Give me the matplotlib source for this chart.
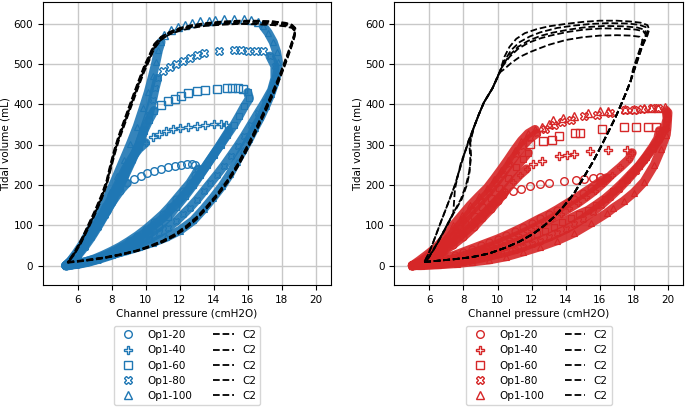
import matplotlib
matplotlib.use('Agg')
import matplotlib.pyplot as plt

BLUE = '#1f77b4'
RED = '#d62728'

labels = ['Op1-20', 'Op1-40', 'Op1-60', 'Op1-80', 'Op1-100']
markers = ['o', 'P', 's', 'X', '^']

# ---------------- left panel (blue), (pressure, volume) ----------------
b20_rise = [(5.3, 0), (5.7, 15), (6.1, 35), (6.5, 58), (6.9, 82), (7.3, 108), (7.7, 135),
            (8.1, 162), (8.5, 186), (8.9, 205)]
b20_top = [(9.3, 215), (9.7, 223), (10.1, 230), (10.5, 236), (10.9, 241), (11.3, 245),
           (11.7, 248), (12.1, 250), (12.4, 251), (12.7, 251), (12.9, 250)]
b20_fall = [(13.1, 240), (12.9, 225), (12.6, 205), (12.2, 185), (11.8, 165), (11.4, 145),
            (11.0, 127), (10.5, 108), (10.0, 90), (9.5, 74), (9.0, 60), (8.5, 47), (8.0, 36),
            (7.5, 26), (7.0, 17), (6.5, 10), (6.0, 5), (5.6, 2), (5.3, 0)]

b40_rise = [(5.3, 0), (5.6, 12), (6.0, 32), (6.4, 55), (6.8, 80), (7.2, 108), (7.6, 138),
            (8.0, 170), (8.4, 205), (8.8, 240), (9.2, 268), (9.6, 290), (10.0, 305)]
b40_top = [(10.4, 318), (10.8, 326), (11.2, 333), (11.6, 338), (12.0, 342), (12.5, 345),
           (13.0, 347), (13.5, 349), (14.0, 351), (14.4, 351), (14.7, 350)]
b40_fall = [(14.9, 335), (14.6, 315), (14.3, 295), (13.9, 270), (13.5, 245), (13.0, 215),
            (12.5, 188), (12.0, 163), (11.5, 140), (11.0, 118), (10.5, 100), (10.0, 83),
            (9.5, 68), (9.0, 55), (8.5, 43), (8.0, 32), (7.5, 23), (7.0, 15), (6.5, 9),
            (6.0, 4), (5.5, 1)]

b60_rise = [(5.3, 0), (5.6, 10), (6.0, 28), (6.4, 50), (6.8, 75), (7.2, 102), (7.6, 132),
            (8.0, 163), (8.4, 196), (8.8, 230), (9.2, 265), (9.6, 300), (9.9, 335),
            (10.2, 362), (10.5, 385)]
b60_top = [(10.9, 398), (11.3, 408), (11.7, 414), (12.1, 420), (12.5, 428), (13.0, 433),
           (13.5, 435), (14.2, 439), (14.8, 440), (15.1, 440), (15.4, 440), (15.7, 438)]
b60_fall = [(16.0, 430), (16.1, 415), (15.8, 395), (15.5, 372), (15.2, 350), (14.8, 325),
            (14.4, 300), (14.0, 275), (13.6, 250), (13.2, 225), (12.8, 200), (12.3, 172),
            (11.8, 146), (11.3, 120), (10.8, 97), (10.2, 78), (9.6, 62), (9.0, 48),
            (8.4, 36), (7.8, 25), (7.2, 16), (6.6, 9), (6.0, 4), (5.5, 1)]

b80_rise = [(5.3, 0), (5.6, 8), (6.0, 25), (6.4, 46), (6.8, 70), (7.2, 97), (7.6, 126),
            (8.0, 157), (8.4, 190), (8.8, 225), (9.2, 262), (9.6, 300), (9.9, 338),
            (10.2, 375), (10.4, 410), (10.55, 440), (10.7, 465)]
b80_top = [(11.0, 482), (11.4, 492), (11.8, 500), (12.2, 508), (12.6, 516), (13.0, 522),
           (13.4, 527), (14.3, 532), (15.2, 534), (15.6, 534), (16.0, 533), (16.5, 533),
           (16.9, 532)]
b80_fall = [(17.3, 520), (17.6, 495), (17.6, 465), (17.4, 435), (17.0, 405), (16.6, 378),
            (16.2, 350), (15.8, 322), (15.4, 296), (15.0, 272), (14.6, 248), (14.2, 226),
            (13.8, 205), (13.4, 184), (13.0, 163), (12.6, 144), (12.2, 127), (11.8, 111),
            (11.3, 94), (10.8, 80), (10.2, 66), (9.6, 53), (9.0, 42), (8.4, 32), (7.8, 23),
            (7.2, 15), (6.6, 8), (6.0, 3), (5.5, 1)]

b100_rise = [(5.3, 0), (5.55, 10), (5.9, 30), (6.3, 55), (6.7, 85), (7.1, 115), (7.5, 148),
             (7.9, 183), (8.3, 222), (8.7, 262), (9.1, 302), (9.5, 345), (9.85, 390),
             (10.15, 430), (10.4, 470), (10.6, 505), (10.75, 535), (10.9, 555)]
b100_top = [(11.1, 572), (11.5, 585), (11.9, 593), (12.3, 598), (12.7, 602), (13.2, 606),
            (13.7, 608), (14.1, 610), (14.6, 611), (15.2, 611), (15.8, 611), (16.2, 609),
            (16.6, 605)]
b100_fall = [(16.9, 595), (17.2, 578), (17.5, 555), (17.7, 530), (17.8, 505), (17.75, 480),
             (17.6, 455), (17.35, 425), (17.05, 395), (16.75, 368), (16.42, 342),
             (16.1, 315), (15.75, 288), (15.35, 258), (14.95, 227), (14.5, 198),
             (13.97, 169), (13.4, 140), (12.8, 112), (12.0, 87), (11.2, 70), (10.4, 57),
             (9.6, 46), (8.8, 36), (8.0, 27), (7.2, 18), (6.4, 9), (5.7, 3), (5.3, 0)]

# C2 loops, left panel: shared pressure path, five volume traces
c2_left_p = [5.4, 6.5, 7.5, 8.5, 9.5, 10.3, 11.0, 11.7, 12.4, 13.0, 13.6, 14.2, 14.8, 15.4,
             16.0, 16.5, 17.0, 17.5, 17.9, 18.25, 18.55, 18.75, 18.8, 18.6, 18.2, 17.5, 16.5,
             15.5, 14.5, 13.5, 12.7, 12.0, 11.4, 10.9, 10.5, 10.2, 9.9, 9.6, 9.3, 9.0, 8.7,
             8.4, 8.15, 7.9, 7.7, 7.4, 7.0, 6.6, 6.2, 5.8, 5.5, 5.4]
c2_left_v1 = [8, 13, 19, 27, 37, 48, 60, 75, 96, 118, 145, 175, 208, 248, 295, 338, 383, 430,
              470, 510, 545, 572, 585, 595, 600, 603, 605, 605, 603, 600, 595, 588, 578, 565,
              545, 515, 488, 455, 420, 385, 350, 315, 280, 240, 205, 170, 130, 95, 60, 30, 12, 8]
c2_left_v2 = [9, 14, 20, 28, 38, 50, 62, 78, 99, 121, 148, 178, 212, 252, 300, 343, 388, 436,
              476, 516, 550, 577, 590, 598, 603, 606, 607, 606, 604, 600, 594, 586, 575, 560,
              538, 508, 480, 447, 412, 378, 343, 308, 272, 232, 198, 164, 125, 90, 56, 27, 11, 9]
c2_left_v3 = [7, 12, 18, 26, 36, 47, 58, 73, 93, 115, 142, 172, 205, 244, 290, 333, 378, 425,
              465, 504, 540, 567, 582, 592, 597, 600, 601, 601, 600, 597, 593, 587, 579, 568,
              550, 522, 495, 462, 428, 393, 358, 322, 288, 248, 212, 176, 136, 100, 64, 33, 14, 7]
c2_left_v4 = [8, 13, 19, 27, 37, 49, 61, 76, 97, 119, 146, 176, 210, 250, 297, 340, 385, 432,
              473, 513, 548, 575, 588, 597, 602, 606, 608, 608, 606, 602, 597, 590, 580, 567,
              548, 519, 491, 458, 423, 388, 352, 317, 283, 243, 208, 172, 132, 97, 62, 31, 13, 8]
c2_left_v5 = [8, 13, 19, 27, 37, 48, 59, 74, 95, 117, 144, 174, 207, 246, 293, 336, 381, 428,
              468, 507, 542, 569, 580, 590, 594, 597, 599, 600, 598, 595, 590, 583, 574, 561,
              541, 512, 485, 452, 418, 383, 348, 313, 278, 238, 203, 168, 128, 93, 58, 29, 12, 8]

# ---------------- right panel (red), (pressure, volume) ----------------
r20_rise = [(5.0, 0), (5.6, 8), (6.2, 20), (6.8, 35), (7.4, 52), (8.0, 72), (8.6, 95),
            (9.1, 118), (9.6, 140), (10.0, 160), (10.3, 175)]
r20_top = [(10.4, 182), (10.9, 186), (11.4, 190), (11.9, 197), (12.5, 203), (13.0, 205),
           (13.9, 210), (14.6, 213), (15.1, 216), (15.6, 218), (16.0, 219)]
r20_fall = [(16.4, 218), (16.0, 208), (15.5, 193), (15.0, 179), (14.5, 165), (14.0, 152),
            (13.5, 139), (13.0, 127), (12.5, 117), (12.0, 106), (11.5, 95), (11.0, 85),
            (10.5, 75), (10.0, 66), (9.5, 58), (9.0, 50), (8.5, 42), (8.0, 34), (7.5, 26),
            (7.0, 19), (6.5, 12), (6.0, 7), (5.5, 3), (5.0, 0)]

r40_rise = [(5.0, 0), (5.6, 9), (6.2, 22), (6.8, 38), (7.4, 58), (8.0, 80), (8.6, 104),
            (9.2, 128), (9.8, 155), (10.4, 182), (10.9, 207), (11.3, 225), (11.7, 240)]
r40_top = [(12.1, 251), (12.6, 260), (13.6, 272), (14.1, 274), (14.5, 276), (15.4, 284),
           (16.5, 286), (17.6, 286)]
r40_fall = [(17.9, 280), (17.7, 264), (17.2, 244), (16.7, 226), (16.2, 205), (15.7, 186),
            (15.2, 170), (14.7, 155), (14.2, 142), (13.7, 129), (13.2, 117), (12.7, 106),
            (12.2, 95), (11.7, 85), (11.2, 75), (10.7, 66), (10.2, 57), (9.7, 49), (9.2, 41),
            (8.7, 34), (8.2, 27), (7.7, 20), (7.2, 14), (6.7, 9), (6.2, 5), (5.6, 2), (5.0, 0)]

r60_rise = [(5.0, 0), (5.6, 10), (6.1, 24), (6.6, 40), (7.1, 58), (7.6, 80), (8.1, 102),
            (8.6, 124), (9.1, 146), (9.6, 168), (10.1, 192), (10.6, 218), (11.1, 245),
            (11.5, 265), (11.8, 280)]
r60_top = [(11.9, 301), (12.66, 309), (13.2, 313), (13.6, 321), (14.56, 329), (14.85, 329),
           (16.13, 339), (17.4, 343), (18.1, 343), (18.8, 343), (19.3, 345)]
r60_fall = [(19.5, 335), (19.4, 315), (19.1, 294), (18.7, 270), (18.3, 248), (17.8, 226),
            (17.3, 204), (16.8, 184), (16.3, 166), (15.8, 151), (15.3, 137), (14.8, 128),
            (14.3, 118), (13.8, 107), (13.3, 97), (12.8, 87), (12.3, 78), (11.8, 69),
            (11.3, 61), (10.8, 53), (10.3, 45), (9.8, 38), (9.3, 32), (8.8, 26), (8.3, 20),
            (7.8, 15), (7.3, 11), (6.8, 7), (6.3, 4), (5.7, 2), (5.0, 0)]

r80_rise = [(5.0, 0), (5.5, 10), (6.0, 25), (6.5, 42), (7.0, 62), (7.5, 88), (8.0, 112),
            (8.5, 137), (9.0, 160), (9.5, 183), (9.9, 205), (10.3, 228), (10.7, 252),
            (11.1, 276), (11.5, 298), (11.9, 316), (12.3, 328)]
r80_top = [(12.8, 338), (13.3, 348), (13.8, 356), (14.3, 362), (15.05, 371), (15.83, 375),
           (16.61, 379), (17.49, 387), (17.98, 387), (18.5, 389), (19.06, 391), (19.4, 392)]
r80_fall = [(19.9, 385), (19.95, 365), (19.8, 340), (19.5, 315), (19.1, 290), (18.6, 262),
            (18.1, 236), (17.6, 212), (17.1, 190), (16.6, 170), (16.1, 151), (15.6, 134),
            (15.0, 116), (14.5, 102), (14.0, 90), (13.5, 80), (13.0, 70), (12.5, 62),
            (12.0, 54), (11.5, 46), (11.0, 39), (10.5, 33), (10.0, 28), (9.5, 23), (9.0, 18),
            (8.5, 14), (8.0, 10), (7.5, 7), (7.0, 5), (6.5, 3), (6.0, 2), (5.5, 1), (5.0, 0)]

r100_rise = [(5.0, 0), (5.4, 12), (5.9, 28), (6.4, 45), (6.9, 68), (7.4, 100), (7.9, 125),
             (8.4, 150), (8.9, 172), (9.4, 193), (9.8, 215), (10.2, 238), (10.6, 262),
             (11.0, 287), (11.4, 310), (11.8, 328), (12.2, 338)]
r100_top = [(12.6, 345), (13.0, 352), (13.28, 362), (13.87, 367), (14.46, 371), (15.3, 378),
            (16.03, 383), (16.5, 385), (17.5, 388), (18.0, 389), (18.6, 390), (19.0, 391),
            (19.4, 392), (19.8, 394)]
r100_fall = [(20.0, 380), (19.95, 345), (19.9, 325), (19.6, 290), (19.2, 250), (18.6, 208),
             (18.0, 181), (17.4, 160), (16.8, 143), (16.4, 130), (15.5, 106), (14.5, 81),
             (13.5, 62), (12.5, 47), (11.5, 34), (10.5, 22), (9.5, 14), (8.5, 9), (7.6, 5),
             (6.5, 2), (5.5, 0), (5.0, 0)]

# C2 loops, right panel: shared lower branch, five upper/left returns
c2_right_low = [(5.7, 9), (6.5, 12), (7.5, 16), (8.5, 21), (9.5, 30), (10.5, 45), (11.3, 60),
                (12.1, 79), (12.7, 98), (13.3, 120), (13.9, 148), (14.5, 180), (15.0, 215),
                (15.6, 258), (16.1, 298), (16.5, 332), (16.9, 366), (17.2, 395), (17.5, 425),
                (17.8, 457)]
c2_right_a = [(18.15, 500), (18.5, 545), (18.8, 572), (18.9, 586), (18.8, 597), (18.4, 603),
              (17.8, 606), (17.0, 608), (16.0, 608), (15.0, 605), (14.0, 600), (13.0, 594),
              (12.3, 587), (11.6, 577), (11.1, 563), (10.7, 543), (10.4, 518), (10.15, 483),
              (9.7, 440), (9.2, 405), (8.9, 375), (8.6, 342), (8.3, 310), (8.0, 270),
              (7.75, 235), (7.5, 200), (7.1, 155), (6.6, 100), (6.2, 55), (5.9, 25), (5.7, 9)]
c2_right_b = [(18.1, 497), (18.45, 540), (18.7, 568), (18.8, 582), (18.7, 592), (18.3, 598),
              (17.6, 601), (16.5, 602), (15.5, 600), (14.5, 596), (13.5, 590), (12.5, 579),
              (11.9, 569), (11.3, 555), (10.8, 535), (10.4, 508), (10.15, 483), (9.7, 440),
              (9.2, 405), (8.9, 375), (8.6, 342), (8.35, 300), (8.4, 265), (8.35, 230),
              (8.2, 200), (7.9, 165), (7.4, 128), (6.9, 88), (6.4, 50), (6.0, 22), (5.8, 10)]
c2_right_c = [(18.1, 497), (18.4, 537), (18.65, 563), (18.75, 576), (18.6, 586), (18.2, 591),
              (17.4, 594), (16.3, 595), (15.2, 592), (14.2, 586), (13.2, 578), (12.5, 570),
              (11.8, 558), (11.2, 543), (10.7, 522), (10.3, 497), (10.15, 483), (9.7, 440),
              (9.2, 405), (8.9, 375), (8.6, 342), (8.2, 295), (7.85, 255), (7.65, 220),
              (7.5, 190), (7.45, 160), (7.4, 130), (6.9, 90), (6.4, 52), (6.0, 24), (5.8, 10)]
c2_right_d = [(18.05, 493), (18.35, 533), (18.6, 560), (18.7, 573), (18.55, 582), (18.1, 586),
              (17.3, 588), (16.2, 589), (15.1, 586), (14.1, 580), (13.1, 571), (12.5, 564),
              (11.8, 553), (11.2, 538), (10.7, 518), (10.3, 495), (10.15, 483), (9.7, 440),
              (9.2, 405), (8.9, 375), (8.6, 342), (8.4, 305), (8.45, 270), (8.35, 235),
              (8.15, 200), (7.85, 165), (7.4, 130), (6.9, 90), (6.4, 50), (6.0, 22), (5.8, 10)]
c2_right_e = [(17.95, 488), (18.25, 525), (18.45, 550), (18.5, 561), (18.35, 568), (17.8, 571),
              (17.0, 572), (16.0, 571), (15.0, 567), (14.0, 560), (13.0, 548), (12.5, 540),
              (11.9, 530), (11.3, 518), (10.8, 503), (10.4, 488), (10.15, 480), (9.7, 440),
              (9.2, 405), (8.9, 375), (8.6, 342), (8.3, 310), (8.0, 270), (7.75, 235),
              (7.5, 200), (7.1, 155), (6.6, 100), (6.2, 55), (5.9, 25), (5.7, 9)]

plt.rcParams['font.size'] = 7.5


def draw_series(ax, rise, top, fall, marker, color, label):
    # the slow branches are so dense in the original that they read as a band
    for seg in (rise, fall):
        p, v = zip(*seg)
        ax.plot(p, v, color=color, lw=6.5, alpha=0.9, solid_capstyle='round',
                solid_joinstyle='round', zorder=1)
        ax.plot(p, v, ls='none', marker=marker, mfc='none', mec=color, ms=5, mew=0.8,
                zorder=2)
    p, v = zip(*top)
    ax.plot(p, v, ls='none', marker=marker, mfc='none', mec=color, ms=5.5, mew=1,
            label=label, zorder=2)


def style_axes(ax):
    ax.set_xlim(3.94, 20.9)
    ax.set_ylim(-49, 654)
    ax.set_xticks(range(6, 21, 2))
    ax.set_yticks(range(0, 601, 100))
    ax.grid(True, color='#c8c8c8', linewidth=1)
    ax.set_axisbelow(True)
    ax.set_xlabel('Channel pressure (cmH2O)', labelpad=3)
    ax.set_ylabel('Tidal volume (mL)', labelpad=2)
    ax.legend(loc='upper center', bbox_to_anchor=(0.5, -0.125), ncol=2, fontsize=7.5)


fig = plt.figure(figsize=(6.85, 4.08), dpi=100)
ax1 = fig.add_axes([0.0623, 0.3007, 0.421, 0.694])
ax2 = fig.add_axes([0.5756, 0.3007, 0.4219, 0.694])

left_series = [(b20_rise, b20_top, b20_fall), (b40_rise, b40_top, b40_fall),
               (b60_rise, b60_top, b60_fall), (b80_rise, b80_top, b80_fall),
               (b100_rise, b100_top, b100_fall)]
for (rise, top, fall), m, lab in zip(left_series, markers, labels):
    draw_series(ax1, rise, top, fall, m, BLUE, lab)
for v in (c2_left_v1, c2_left_v2, c2_left_v3, c2_left_v4, c2_left_v5):
    ax1.plot(c2_left_p, v, 'k--', lw=1.3, label='C2', zorder=3)

right_series = [(r20_rise, r20_top, r20_fall), (r40_rise, r40_top, r40_fall),
                (r60_rise, r60_top, r60_fall), (r80_rise, r80_top, r80_fall),
                (r100_rise, r100_top, r100_fall)]
for (rise, top, fall), m, lab in zip(right_series, markers, labels):
    draw_series(ax2, rise, top, fall, m, RED, lab)
for upper in (c2_right_a, c2_right_b, c2_right_c, c2_right_d, c2_right_e):
    p, v = zip(*(c2_right_low + upper))
    ax2.plot(p, v, 'k--', lw=1.3, label='C2', zorder=3)

style_axes(ax1)
style_axes(ax2)

fig.savefig('out.png', dpi=100)
